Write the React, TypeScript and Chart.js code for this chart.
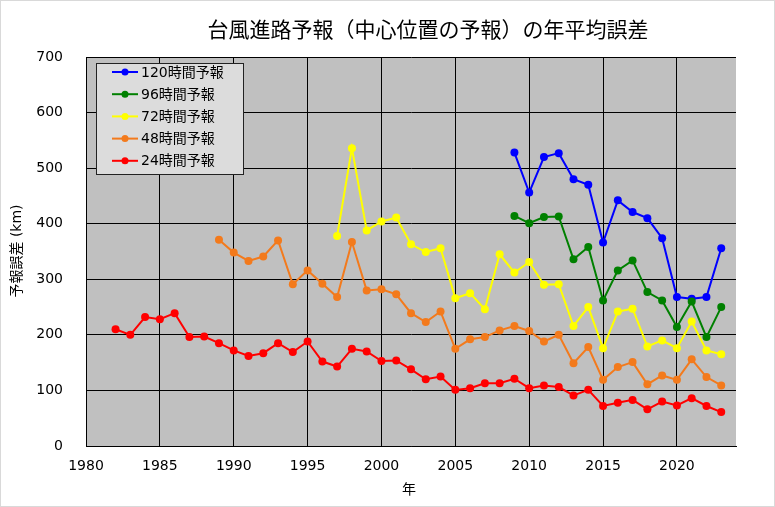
import { useEffect, useRef } from 'react'
import { Chart, registerables } from 'chart.js'
Chart.register(...registerables)

// 年 (1982-2023)
const years = [
  1982, 1983, 1984, 1985, 1986, 1987, 1988, 1989, 1990, 1991,
  1992, 1993, 1994, 1995, 1996, 1997, 1998, 1999, 2000, 2001,
  2002, 2003, 2004, 2005, 2006, 2007, 2008, 2009, 2010, 2011,
  2012, 2013, 2014, 2015, 2016, 2017, 2018, 2019, 2020, 2021,
  2022, 2023,
]

// each series ends in 2023; shorter ones start later
const h120 = [528, 456, 520, 527, 480, 470, 366, 442, 421, 410, 374, 268, 265, 268, 356]
const h96 = [414, 401, 412, 413, 336, 358, 262, 316, 334, 277, 262, 214, 260, 196, 250]
const h72 = [
  378, 536, 388, 404, 411, 363, 349, 356, 266, 275,
  246, 345, 312, 331, 290, 291, 216, 250, 176, 242,
  247, 179, 190, 176, 224, 172, 165,
]
const h48 = [
  371, 348, 333, 341, 370, 291, 316, 292, 268, 367,
  280, 282, 273, 239, 223, 242, 175, 192, 196, 208,
  216, 207, 188, 200, 149, 178, 119, 142, 151, 111,
  127, 119, 156, 124, 109,
]
const h24 = [
  210, 200, 232, 228, 239, 196, 197, 185, 172, 162,
  167, 185, 169, 188, 152, 143, 175, 170, 153, 154,
  138, 120, 125, 101, 104, 113, 113, 121, 104, 109,
  106, 91, 101, 72, 78, 83, 66, 80, 73, 86,
  72, 61,
]

const yTicks = [0, 100, 200, 300, 400, 500, 600, 700]
const xTicks = [1980, 1985, 1990, 1995, 2000, 2005, 2010, 2015, 2020]

const series = [
  { label: '120時間予報', data: h120, color: '#0000ff' },
  { label: '96時間予報', data: h96, color: '#008000' },
  { label: '72時間予報', data: h72, color: '#ffff00' },
  { label: '48時間予報', data: h48, color: '#f37a1c' },
  { label: '24時間予報', data: h24, color: '#ff0000' },
]

const FONT = '"DejaVu Sans", "Noto Sans CJK JP", sans-serif'
const JP = '"Noto Sans CJK JP", sans-serif'

const toPoints = (vals: number[]) =>
  vals.map((v, i) => ({ x: years[years.length - vals.length + i], y: v }))

const decor = {
  id: 'decor',
  beforeDraw(chart: Chart) {
    const { ctx, chartArea: a, width, height } = chart
    ctx.save()
    ctx.fillStyle = '#fff'
    ctx.fillRect(0, 0, width, height)
    ctx.strokeStyle = '#d9d9d9'
    ctx.lineWidth = 1
    ctx.strokeRect(0.5, 0.5, width - 1, height - 1)
    ctx.fillStyle = '#c0c0c0'
    ctx.fillRect(a.left, a.top, a.right - a.left, a.bottom - a.top)
    ctx.restore()
  },
  afterDraw(chart: Chart) {
    const { ctx } = chart
    ctx.save()
    ctx.fillStyle = '#000'
    ctx.textAlign = 'center'
    ctx.textBaseline = 'middle'
    ctx.font = `21px ${JP}`
    ctx.fillText('台風進路予報（中心位置の予報）の年平均誤差', 428, 29)
    ctx.font = `14px ${JP}`
    ctx.fillText('年', 409, 489)
    ctx.translate(17, 251)
    ctx.rotate(-Math.PI / 2)
    ctx.font = `14px ${FONT}`
    ctx.fillText('予報誤差 (km)', 0, 0)
    ctx.restore()

    // legend box
    ctx.save()
    const bx = 96, by = 63, bw = 147, bh = 111
    ctx.fillStyle = '#dcdcdc'
    ctx.fillRect(bx, by, bw, bh)
    ctx.strokeStyle = '#222'
    ctx.lineWidth = 1
    ctx.strokeRect(bx + 0.5, by + 0.5, bw, bh)
    ctx.font = `14px ${FONT}`
    ctx.textBaseline = 'middle'
    ctx.textAlign = 'left'
    series.forEach((s, i) => {
      const y = 72 + i * 22.2
      ctx.strokeStyle = s.color
      ctx.lineWidth = 2
      ctx.beginPath()
      ctx.moveTo(112, y)
      ctx.lineTo(138, y)
      ctx.stroke()
      ctx.fillStyle = s.color
      ctx.beginPath()
      ctx.arc(125, y, 3.5, 0, Math.PI * 2)
      ctx.fill()
      ctx.fillStyle = '#000'
      ctx.fillText(s.label, 141, y + 1)
    })
    ctx.restore()
  },
}

export default function App() {
  const ref = useRef<HTMLCanvasElement>(null)
  const inst = useRef<Chart | null>(null)

  useEffect(() => {
    document.body.style.margin = '0'
    if (!ref.current) return
    inst.current?.destroy()
    inst.current = new Chart(ref.current, {
      type: 'line',
      data: {
        datasets: series.map((s, i) => ({
          label: s.label,
          data: toPoints(s.data),
          borderColor: s.color,
          backgroundColor: s.color,
          borderWidth: 2,
          pointRadius: 4,
          pointBorderWidth: 0,
          pointBackgroundColor: s.color,
          tension: 0,
          order: series.length - i,
        })),
      },
      options: {
        responsive: false,
        animation: false,
        layout: { padding: { top: 57, right: 39, left: 0, bottom: 0 } },
        plugins: { legend: { display: false }, title: { display: false }, tooltip: { enabled: false } },
        scales: {
          x: {
            type: 'linear', min: 1980, max: 2024,
            afterBuildTicks: sc => { sc.ticks = xTicks.map(v => ({ value: v })) },
            afterFit: sc => { sc.height = 61 },
            grid: { color: '#000', lineWidth: 1, drawTicks: false },
            border: { color: '#000', width: 1 },
            ticks: { color: '#000', padding: 12, font: { family: FONT, size: 14 }, callback: v => String(v) },
          },
          y: {
            min: 0, max: 700,
            afterBuildTicks: sc => { sc.ticks = yTicks.map(v => ({ value: v })) },
            afterFit: sc => { sc.width = 86 },
            grid: { color: '#000', lineWidth: 1, drawTicks: false },
            border: { color: '#000', width: 1 },
            ticks: { color: '#000', padding: 23, font: { family: FONT, size: 14 }, callback: v => String(v) },
          },
        },
      },
      plugins: [decor],
    })
    return () => { inst.current?.destroy() }
  }, [])

  return <canvas ref={ref} width={775} height={507} style={{ display: 'block' }} />
}
